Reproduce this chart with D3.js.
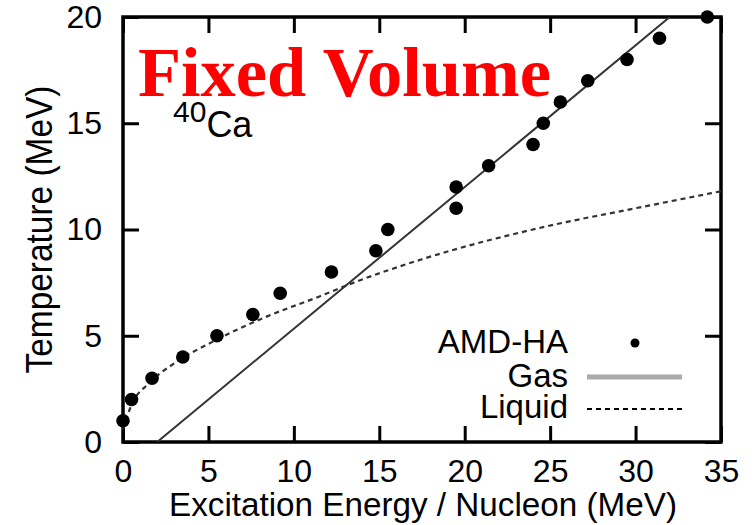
<!DOCTYPE html>
<html>
<head>
<meta charset="utf-8">
<script src="https://cdn.jsdelivr.net/npm/d3@7"></script>
<style>
  body { margin: 0; background: #fff; }
  svg { display: block; }
  .tick text { font-family: "Liberation Sans", Arial, sans-serif; font-size: 32px; fill: #000; }
  .lbl { font-family: "Liberation Sans", Arial, sans-serif; fill: #000; }
</style>
</head>
<body>
<svg id="chart"></svg>
<script>
// AMD-HA points (excitation energy / nucleon, temperature)
const amdE = [0, 0.5, 1.7, 3.5, 5.5, 7.6, 9.2, 12.2, 14.8, 15.5, 19.5, 19.5, 21.4, 24.0, 24.6, 25.6, 27.2, 29.5, 31.4, 34.2];
const amdT = [1, 2, 3, 4, 5, 6, 7, 8, 9, 10, 12, 11, 13, 14, 15, 16, 17, 18, 19, 20];

// Gas line
const gasE = [2, 32];
const gasT = [0, 20];

// Liquid curve
const liqE = [0, 0.5, 1.5, 3, 5.2, 8.4, 11.5, 13.5, 17.5, 24.8, 30, 35];
const liqT = [0.6, 1.75, 2.75, 3.7, 4.7, 5.9, 6.85, 7.5, 8.6, 10.15, 11.0, 11.8];

const xTicks = [0, 5, 10, 15, 20, 25, 30, 35];
const yTicks = [0, 5, 10, 15, 20];

const W = 756, H = 525;
const margin = { top: 17, right: 35, bottom: 83, left: 123 };
const width = W - margin.left - margin.right;
const height = H - margin.top - margin.bottom;

const svg = d3.select('#chart').attr('width', W).attr('height', H);
const g = svg.append('g').attr('transform', `translate(${margin.left},${margin.top})`);

const x = d3.scaleLinear().domain([0, 35]).range([0, width]);
const y = d3.scaleLinear().domain([0, 20]).range([height, 0]);

svg.append('defs').append('clipPath').attr('id', 'clip')
  .append('rect').attr('width', width).attr('height', height);

// axes, ticks pointing inward
const styleAxis = sel => {
  sel.select('.domain').remove();
  sel.selectAll('.tick line').attr('stroke', '#000').attr('stroke-width', 3);
};
g.append('g').attr('transform', `translate(0,${height})`)
  .call(d3.axisBottom(x).tickValues(xTicks).tickSizeInner(-16).tickSizeOuter(0).tickPadding(17))
  .call(styleAxis);
g.append('g')
  .call(d3.axisLeft(y).tickValues(yTicks).tickSizeInner(-16).tickSizeOuter(0).tickPadding(21))
  .call(styleAxis);
g.append('g')
  .call(d3.axisTop(x).tickValues(xTicks).tickSizeInner(-16).tickSizeOuter(0).tickFormat(''))
  .call(styleAxis);
g.append('g').attr('transform', `translate(${width},0)`)
  .call(d3.axisRight(y).tickValues(yTicks).tickSizeInner(-16).tickSizeOuter(0).tickFormat(''))
  .call(styleAxis);

g.append('rect')
  .attr('width', width).attr('height', height)
  .attr('fill', 'none').attr('stroke', '#000').attr('stroke-width', 3.5);

const line = d3.line().x(d => x(d[0])).y(d => y(d[1]));

// gas
g.append('path')
  .datum(gasE.map((e, i) => [e, gasT[i]]))
  .attr('clip-path', 'url(#clip)')
  .attr('d', line)
  .attr('fill', 'none').attr('stroke', '#333').attr('stroke-width', 2);

// liquid
g.append('path')
  .datum(liqE.map((e, i) => [e, liqT[i]]))
  .attr('d', line.curve(d3.curveMonotoneX))
  .attr('fill', 'none').attr('stroke', '#333').attr('stroke-width', 2.2)
  .attr('stroke-dasharray', '5,4');

// points
g.selectAll('.pt')
  .data(amdE.map((e, i) => [e, amdT[i]]))
  .join('circle')
  .attr('class', 'pt')
  .attr('cx', d => x(d[0])).attr('cy', d => y(d[1]))
  .attr('r', 6.8).attr('fill', '#000');

// axis titles
svg.append('text').attr('class', 'lbl')
  .attr('x', margin.left + width / 2 + 1).attr('y', 516)
  .attr('text-anchor', 'middle').attr('font-size', 33)
  .attr('textLength', 508).attr('lengthAdjust', 'spacingAndGlyphs')
  .text('Excitation Energy / Nucleon (MeV)');
svg.append('text').attr('class', 'lbl')
  .attr('transform', `translate(52,${margin.top + height / 2}) rotate(-90)`)
  .attr('text-anchor', 'middle').attr('font-size', 37)
  .attr('textLength', 288).attr('lengthAdjust', 'spacingAndGlyphs')
  .text('Temperature (MeV)');

// title and nucleus label
svg.append('text')
  .attr('x', 138).attr('y', 96)
  .attr('font-family', '"Liberation Serif", "Times New Roman", serif')
  .attr('font-weight', 'bold').attr('font-size', 70).attr('fill', '#ff0000')
  .attr('textLength', 413).attr('lengthAdjust', 'spacingAndGlyphs')
  .text('Fixed Volume');
const ca = svg.append('text').attr('class', 'lbl').attr('x', 173).attr('y', 137);
ca.append('tspan').attr('font-size', 30).attr('dy', -15).text('40');
ca.append('tspan').attr('font-size', 36).attr('dy', 15).text('Ca');

// legend
const legend = svg.append('g');
const legX = 568, legL0 = 587, legL1 = 682;
legend.append('text').attr('class', 'lbl').attr('x', legX).attr('y', 353)
  .attr('text-anchor', 'end').attr('font-size', 33).text('AMD-HA');
legend.append('circle').attr('cx', 635).attr('cy', 343).attr('r', 4.5).attr('fill', '#000');
legend.append('text').attr('class', 'lbl').attr('x', legX).attr('y', 387)
  .attr('text-anchor', 'end').attr('font-size', 33).text('Gas');
legend.append('line').attr('x1', legL0).attr('x2', legL1).attr('y1', 377).attr('y2', 377)
  .attr('stroke', '#aaa').attr('stroke-width', 5);
legend.append('text').attr('class', 'lbl').attr('x', legX).attr('y', 418)
  .attr('text-anchor', 'end').attr('font-size', 33).text('Liquid');
legend.append('line').attr('x1', legL0).attr('x2', legL1).attr('y1', 409).attr('y2', 409)
  .attr('stroke', '#000').attr('stroke-width', 2).attr('stroke-dasharray', '5,4');
</script>
</body>
</html>
